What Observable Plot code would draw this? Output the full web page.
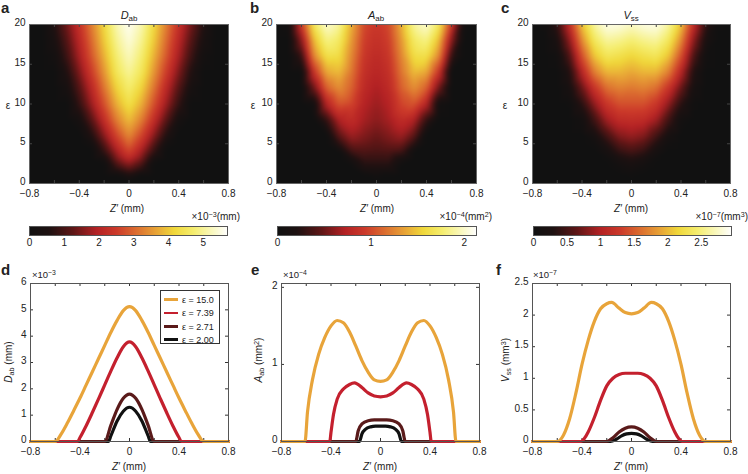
<!DOCTYPE html>
<html><head><meta charset="utf-8">
<script src="https://cdn.jsdelivr.net/npm/d3@7"></script>
<script src="https://cdn.jsdelivr.net/npm/@observablehq/plot@0.6"></script>
<style>
body{margin:0;background:#fff;}
#fig{position:relative;width:748px;height:474px;overflow:hidden;font-family:"Liberation Sans",Arial,sans-serif;color:#222;background:#fff;}
#fig svg{position:absolute;overflow:visible;}
.t{position:absolute;white-space:nowrap;font-size:10px;line-height:1;transform:translate(-50%,-50%);}
.sb{font-size:0.72em;position:relative;top:0.3em;}
.sp{font-size:0.72em;position:relative;top:-0.45em;}
.lt{position:absolute;font-weight:bold;font-size:15px;line-height:1;}
#leg{position:absolute;left:160px;top:290px;width:58px;height:52px;border:1.5px solid #333;background:#fff;}
#leg div{position:absolute;left:3px;font-size:9px;line-height:1;white-space:nowrap;}
#leg span.sw{display:inline-block;width:14px;height:2.6px;vertical-align:middle;margin-right:4px;position:relative;top:-1px;}
</style>
</head><body>
<div id="fig"></div>
<script>
// ---------- data ----------
const zGrid = [-0.8,-0.7,-0.6,-0.5,-0.4,-0.3,-0.2,-0.1,0,0.1,0.2,0.3,0.4,0.5,0.6,0.7,0.8];
const epsGrid = [0,1,2,3,4,5,6,8,10,12,14,16,18,20];

const D_map = [
 [0,0,0,0,0,0,0,0,0,0,0,0,0,0,0,0,0],
 [0,0,0,0,0,0,0,0,0.4,0,0,0,0,0,0,0,0],
 [0,0,0,0,0,0,0,0.8,1.3,0.8,0,0,0,0,0,0,0],
 [0,0,0,0,0,0,0.2,1.4,2.0,1.4,0.2,0,0,0,0,0,0],
 [0,0,0,0,0,0,0.78,1.82,2.6,1.82,0.78,0,0,0,0,0,0],
 [0,0,0,0,0,0.2,1.17,2.25,3.0,2.25,1.17,0.2,0,0,0,0,0],
 [0,0,0,0,0,0.55,1.58,2.6,3.35,2.6,1.58,0.55,0,0,0,0,0],
 [0,0,0,0,0.28,1.18,2.23,3.25,3.9,3.25,2.23,1.18,0.28,0,0,0,0],
 [0,0,0,0,0.78,1.75,2.75,3.75,4.35,3.75,2.75,1.75,0.78,0,0,0,0],
 [0,0,0,0.28,1.13,2.1,3.15,4.13,4.7,4.13,3.15,2.1,1.13,0.28,0,0,0],
 [0,0,0,0.55,1.5,2.5,3.5,4.5,5.0,4.5,3.5,2.5,1.5,0.55,0,0,0],
 [0,0,0.16,0.89,1.84,2.83,3.78,4.73,5.25,4.73,3.78,2.83,1.84,0.89,0.16,0,0],
 [0,0,0.38,1.14,2.07,3.05,4.03,4.96,5.45,4.96,4.03,3.05,2.07,1.14,0.38,0,0],
 [0,0,0.56,1.4,2.3,3.26,4.22,5.17,5.62,5.17,4.22,3.26,2.3,1.4,0.56,0,0]
];
const A_map = [
 [0,0,0,0,0,0,0,0,0,0,0,0,0,0,0,0,0],
 [0,0,0,0,0,0,0,0,0.05,0,0,0,0,0,0,0,0],
 [0,0,0,0,0,0,0,0.19,0.2,0.19,0,0,0,0,0,0,0],
 [0,0,0,0,0,0,0.1,0.3,0.3,0.3,0.1,0,0,0,0,0,0],
 [0,0,0,0,0,0,0.35,0.4,0.38,0.4,0.35,0,0,0,0,0,0],
 [0,0,0,0,0,0.25,0.52,0.5,0.45,0.5,0.52,0.25,0,0,0,0,0],
 [0,0,0,0,0,0.45,0.65,0.57,0.5,0.57,0.65,0.45,0,0,0,0,0],
 [0,0,0,0,0.3,0.72,0.82,0.68,0.6,0.68,0.82,0.72,0.3,0,0,0,0],
 [0,0,0,0.05,0.75,1.05,0.98,0.74,0.65,0.74,0.98,1.05,0.75,0.05,0,0,0],
 [0,0,0,0.5,1.1,1.28,1.1,0.8,0.7,0.8,1.1,1.28,1.1,0.5,0,0,0],
 [0,0,0,0.88,1.38,1.45,1.18,0.85,0.76,0.85,1.18,1.45,1.38,0.88,0,0,0],
 [0,0,0.3,1.25,1.62,1.6,1.25,0.9,0.8,0.9,1.25,1.6,1.62,1.25,0.3,0,0],
 [0,0,0.6,1.45,1.82,1.72,1.32,0.95,0.85,0.95,1.32,1.72,1.82,1.45,0.6,0,0],
 [0,0.05,0.9,1.7,2.02,1.88,1.4,1.0,0.9,1.0,1.4,1.88,2.02,1.7,0.9,0.05,0]
];
const V_map = [
 [0,0,0,0,0,0,0,0,0,0,0,0,0,0,0,0,0],
 [0,0,0,0,0,0,0,0,0.02,0,0,0,0,0,0,0,0],
 [0,0,0,0,0,0,0,0.06,0.13,0.06,0,0,0,0,0,0,0],
 [0,0,0,0,0,0,0.02,0.18,0.28,0.18,0.02,0,0,0,0,0,0],
 [0,0,0,0,0,0,0.15,0.4,0.5,0.4,0.15,0,0,0,0,0,0],
 [0,0,0,0,0,0.05,0.3,0.6,0.7,0.6,0.3,0.05,0,0,0,0,0],
 [0,0,0,0,0,0.15,0.5,0.8,0.88,0.8,0.5,0.15,0,0,0,0,0],
 [0,0,0,0,0.08,0.48,0.92,1.12,1.15,1.12,0.92,0.48,0.08,0,0,0,0],
 [0,0,0,0.02,0.35,0.85,1.25,1.42,1.42,1.42,1.25,0.85,0.35,0.02,0,0,0],
 [0,0,0,0.15,0.68,1.22,1.6,1.7,1.65,1.7,1.6,1.22,0.68,0.15,0,0,0],
 [0,0,0,0.3,1.05,1.68,1.98,1.98,1.9,1.98,1.98,1.68,1.05,0.3,0,0,0],
 [0,0,0.05,0.55,1.42,2.05,2.32,2.25,2.15,2.25,2.32,2.05,1.42,0.55,0.05,0,0],
 [0,0,0.2,0.85,1.75,2.35,2.6,2.55,2.45,2.55,2.6,2.35,1.75,0.85,0.2,0,0],
 [0,0.02,0.4,1.15,2.05,2.62,2.88,2.85,2.75,2.85,2.88,2.62,2.05,1.15,0.4,0.02,0]
];

// line profiles [Z', value]
const D_e150 = [[-0.8,0],[-0.6,0],[-0.55,0.3],[-0.5,0.72],[-0.45,1.18],[-0.4,1.65],[-0.35,2.15],[-0.3,2.65],[-0.25,3.15],[-0.2,3.65],[-0.15,4.15],[-0.1,4.6],[-0.05,4.97],[0,5.12],[0.05,4.97],[0.1,4.6],[0.15,4.15],[0.2,3.65],[0.25,3.15],[0.3,2.65],[0.35,2.15],[0.4,1.65],[0.45,1.18],[0.5,0.72],[0.55,0.3],[0.6,0],[0.8,0]];
const D_e739 = [[-0.8,0],[-0.42,0],[-0.4,0.15],[-0.35,0.6],[-0.3,1.1],[-0.25,1.62],[-0.2,2.15],[-0.15,2.68],[-0.1,3.18],[-0.05,3.6],[0,3.78],[0.05,3.6],[0.1,3.18],[0.15,2.68],[0.2,2.15],[0.25,1.62],[0.3,1.1],[0.35,0.6],[0.4,0.15],[0.42,0],[0.8,0]];
const D_e271 = [[-0.8,0],[-0.2,0],[-0.15,0.62],[-0.1,1.22],[-0.05,1.64],[0,1.8],[0.05,1.64],[0.1,1.22],[0.15,0.62],[0.2,0],[0.8,0]];
const D_e200 = [[-0.8,0],[-0.17,0],[-0.15,0.22],[-0.1,0.78],[-0.05,1.15],[0,1.3],[0.05,1.15],[0.1,0.78],[0.15,0.22],[0.17,0],[0.8,0]];

const A_e150 = [[-0.8,0],[-0.61,0],[-0.59,0.38],[-0.55,0.8],[-0.5,1.13],[-0.45,1.35],[-0.4,1.5],[-0.35,1.57],[-0.3,1.54],[-0.25,1.42],[-0.2,1.24],[-0.15,1.05],[-0.1,0.9],[-0.05,0.8],[0,0.78],[0.05,0.8],[0.1,0.9],[0.15,1.05],[0.2,1.24],[0.25,1.42],[0.3,1.54],[0.35,1.57],[0.4,1.5],[0.45,1.35],[0.5,1.13],[0.55,0.8],[0.59,0.38],[0.61,0],[0.8,0]];
const A_e739 = [[-0.8,0],[-0.41,0],[-0.4,0.12],[-0.38,0.35],[-0.35,0.55],[-0.3,0.68],[-0.25,0.74],[-0.21,0.76],[-0.15,0.7],[-0.1,0.63],[-0.05,0.59],[0,0.58],[0.05,0.59],[0.1,0.63],[0.15,0.7],[0.21,0.76],[0.25,0.74],[0.3,0.68],[0.35,0.55],[0.38,0.35],[0.4,0.12],[0.41,0],[0.8,0]];
const A_e271 = [[-0.8,0],[-0.2,0],[-0.18,0.14],[-0.15,0.23],[-0.1,0.27],[-0.05,0.28],[0,0.28],[0.05,0.28],[0.1,0.27],[0.15,0.23],[0.18,0.14],[0.2,0],[0.8,0]];
const A_e200 = [[-0.8,0],[-0.17,0],[-0.15,0.1],[-0.12,0.16],[-0.08,0.19],[-0.04,0.2],[0,0.2],[0.04,0.2],[0.08,0.19],[0.12,0.16],[0.15,0.1],[0.17,0],[0.8,0]];

const V_e150 = [[-0.8,0],[-0.6,0],[-0.55,0.1],[-0.5,0.36],[-0.45,0.76],[-0.4,1.22],[-0.35,1.6],[-0.3,1.9],[-0.25,2.1],[-0.2,2.18],[-0.16,2.2],[-0.1,2.11],[-0.05,2.04],[0,2.02],[0.05,2.04],[0.1,2.11],[0.16,2.2],[0.2,2.18],[0.25,2.1],[0.3,1.9],[0.35,1.6],[0.4,1.22],[0.45,0.76],[0.5,0.36],[0.55,0.1],[0.6,0],[0.8,0]];
const V_e739 = [[-0.8,0],[-0.41,0],[-0.38,0.05],[-0.35,0.15],[-0.3,0.38],[-0.25,0.65],[-0.2,0.88],[-0.15,1.0],[-0.1,1.06],[-0.05,1.08],[0,1.08],[0.05,1.08],[0.1,1.06],[0.15,1.0],[0.2,0.88],[0.25,0.65],[0.3,0.38],[0.35,0.15],[0.38,0.05],[0.41,0],[0.8,0]];
const V_e271 = [[-0.8,0],[-0.2,0],[-0.15,0.06],[-0.1,0.15],[-0.05,0.21],[0,0.23],[0.05,0.21],[0.1,0.15],[0.15,0.06],[0.2,0],[0.8,0]];
const V_e200 = [[-0.8,0],[-0.17,0],[-0.12,0.04],[-0.08,0.09],[-0.04,0.12],[0,0.13],[0.04,0.12],[0.08,0.09],[0.12,0.04],[0.17,0],[0.8,0]];

const seriesLabels = ["ε = 15.0","ε = 7.39","ε = 2.71","ε = 2.00"];
const xMinor = [-0.8,-0.6,-0.4,-0.2,0,0.2,0.4,0.6,0.8];
const xLabels = [-0.8,-0.4,0,0.4,0.8];
const epsTicks = [0,5,10,15,20];
const D_ticks = [0,1,2,3,4,5,6];
const A_ticks = [0,1,2];
const V_ticks = [0,0.5,1,1.5,2,2.5];
const D_cbTicks = [0,1,2,3,4,5];
const A_cbTicks = [0,1,2];
const V_cbTicks = [0,0.5,1,1.5,2,2.5];
const D_cbMax = 5.7, A_cbMax = 2.13, V_cbMax = 2.95;
const A_yMax = 2.05;

// ---------- styling ----------
const seriesColors = ["#e8a43a","#c4202e","#5a1a1a","#111111"];
const cmapStops = [0, 0.1, 0.22, 0.34, 0.44, 0.54, 0.64, 0.73, 0.83, 0.93, 1];
const cmapColors = ["#111111","#1e1111","#5e1616","#b42224","#cc3a2a","#dc6e30","#e8a436","#f0d83a","#f5ee70","#faf9c4","#ffffff"];
const cmapScale = d3.scaleLinear(cmapStops, cmapColors).clamp(true);
const cmap = t => cmapScale(t);
const fmt = d => (d < 0 ? "−" : "") + String(Math.abs(d));
const font = {fontFamily: '"Liberation Sans", Arial, sans-serif', fontSize: "10px", color: "#222", background: "transparent"};

const fig = document.getElementById("fig");
function place(svg, left, top) { svg.style.left = left + "px"; svg.style.top = top + "px"; fig.appendChild(svg); }

function inwardTicks(xs, ys, iw, ih, color) {
  return [
    Plot.tickX(xs, {x: d => d, insetTop: ih - 3, stroke: color}),
    Plot.tickX(xs, {x: d => d, insetBottom: ih - 3, stroke: color}),
    Plot.tickY(ys, {y: d => d, insetRight: iw - 3, stroke: color}),
    Plot.tickY(ys, {y: d => d, insetLeft: iw - 3, stroke: color})
  ];
}

function heat(map, cmax, left, width, ml, mr) {
  const rows = [];
  epsGrid.forEach((e, i) => zGrid.forEach((z, j) => rows.push({z, eps: e, v: map[i][j]})));
  const height = 200, mt = 24, mb = 17;
  const svg = Plot.plot({
    width, height, marginLeft: ml, marginRight: mr, marginTop: mt, marginBottom: mb,
    style: font,
    x: {domain: [-0.8, 0.8]}, y: {domain: [0, 20]},
    color: {type: "linear", domain: [0, cmax], interpolate: cmap, clamp: true},
    marks: [
      Plot.raster(rows, {x: "z", y: "eps", fill: "v", interpolate: "barycentric", blur: 2}),
      ...inwardTicks(xMinor, epsTicks, width - ml - mr, height - mt - mb, "#444"),
      Plot.frame({stroke: "#666"}),
      Plot.axisX({ticks: xLabels, tickSize: 0, tickPadding: 6, tickFormat: fmt, label: null}),
      Plot.axisY({ticks: epsTicks, tickSize: 0, tickPadding: 4, dy: -1.5, tickFormat: fmt, label: null})
    ]
  });
  place(svg, left, 0);
}

function colorbar(cmax, ticks, left, width, ml, mr) {
  const svg = Plot.plot({
    width, height: 35, marginLeft: ml, marginRight: mr, marginTop: 6, marginBottom: 20,
    style: font,
    x: {domain: [0, cmax]}, y: {domain: [0, 1], axis: null},
    color: {type: "linear", domain: [0, cmax], interpolate: cmap, clamp: true},
    marks: [
      Plot.raster({x1: 0, x2: cmax, y1: 0, y2: 1, fill: (x, y) => x}),
      Plot.frame({stroke: "#555"}),
      Plot.axisX({ticks, tickSize: 0, tickPadding: 3, tickFormat: fmt, label: null})
    ]
  });
  place(svg, left, 220);
}

function lines(series, yMax, yTicks, left, width, ml, mr) {
  const height = 190, mt = 13, mb = 19;
  const order = [3, 2, 1, 0];
  const svg = Plot.plot({
    width, height, marginLeft: ml, marginRight: mr, marginTop: mt, marginBottom: mb,
    style: font,
    x: {domain: [-0.8, 0.8]}, y: {domain: [0, yMax]},
    marks: [
      ...inwardTicks(xMinor, yTicks, width - ml - mr, height - mt - mb, "#333"),
      ...order.map(i => Plot.line(series[i], {x: d => d[0], y: d => d[1], stroke: seriesColors[i], strokeWidth: 3.2, curve: "monotone-x"})),
      Plot.frame({stroke: "#555"}),
      Plot.axisX({ticks: xLabels, tickSize: 0, tickPadding: 6, tickFormat: fmt, label: null}),
      Plot.axisY({ticks: yTicks, tickSize: 0, tickPadding: 4, dy: -1.5, tickFormat: fmt, label: null})
    ]
  });
  place(svg, left, 270);
}

heat(D_map, D_cbMax, 0, 240, 29, 12);
heat(A_map, A_cbMax, 250, 240, 26, 14);
heat(V_map, V_cbMax, 500, 248, 32, 18);
colorbar(D_cbMax, D_cbTicks, 0, 240, 29, 13);
colorbar(A_cbMax, A_cbTicks, 250, 240, 27, 14);
colorbar(V_cbMax, V_cbTicks, 500, 248, 33, 17);
lines([D_e150, D_e739, D_e271, D_e200], 6, D_ticks, 0, 240, 30, 12);
lines([A_e150, A_e739, A_e271, A_e200], A_yMax, A_ticks, 250, 240, 31, 11);
lines([V_e150, V_e739, V_e271, V_e200], 2.5, V_ticks, 500, 248, 32, 18);

// ---------- text ----------
function txt(html, x, y, size, align, extra) {
  const d = document.createElement("div");
  d.className = "t"; d.innerHTML = html;
  d.style.left = x + "px"; d.style.top = y + "px";
  if (size) d.style.fontSize = size + "px";
  const tx = align === "right" ? "-100%" : align === "left" ? "0" : "-50%";
  d.style.transform = `translate(${tx},-50%)` + (extra || "");
  fig.appendChild(d);
}
function letter(ch, x, y) {
  const d = document.createElement("div"); d.className = "lt"; d.textContent = ch;
  d.style.left = x + "px"; d.style.top = y + "px"; fig.appendChild(d);
}
letter("a", 1, 0); letter("b", 250, 0); letter("c", 501, 0);
letter("d", 1, 262); letter("e", 251, 262); letter("f", 496, 262);

txt('<i>D</i><span class="sb">ab</span>', 129, 15, 11);
txt('<i>A</i><span class="sb">ab</span>', 376, 15, 11);
txt('<i>V</i><span class="sb">ss</span>', 631, 15, 11);
txt('ε', 8, 106, 10); txt('ε', 253, 106, 10); txt('ε', 505, 106, 10);

const zlab = '<i>Z′</i> (mm)';
txt(zlab, 127, 209, 10); txt(zlab, 377, 209, 10); txt(zlab, 631, 209, 10);
txt(zlab, 129, 467, 10); txt(zlab, 380, 467, 10); txt(zlab, 631, 467, 10);

txt('×10<span class="sp">−3</span>(mm)', 240, 217, 10, "right");
txt('×10<span class="sp">−4</span>(mm<span class="sp">2</span>)', 492, 217, 10, "right");
txt('×10<span class="sp">−7</span>(mm<span class="sp">3</span>)', 748, 217, 10, "right");

txt('×10<span class="sp">−3</span>', 32, 275, 9.5, "left");
txt('×10<span class="sp">−4</span>', 283, 275, 9.5, "left");
txt('×10<span class="sp">−7</span>', 533, 275, 9.5, "left");

txt('<i>D</i><span class="sb">ab</span> (mm)', 9, 362, 10, "center", " rotate(-90deg)");
txt('<i>A</i><span class="sb">ab</span> (mm<span class="sp">2</span>)', 259, 360, 10, "center", " rotate(-90deg)");
txt('<i>V</i><span class="sb">ss</span> (mm<span class="sp">3</span>)', 506, 360, 10, "center", " rotate(-90deg)");

// legend
const leg = document.createElement("div"); leg.id = "leg"; fig.appendChild(leg);
seriesLabels.forEach((s, i) => {
  const r = document.createElement("div");
  r.style.top = (5 + i * 13.3) + "px";
  r.innerHTML = `<span class="sw" style="background:${seriesColors[i]}"></span>${s}`;
  leg.appendChild(r);
});
</script>
</body></html>
